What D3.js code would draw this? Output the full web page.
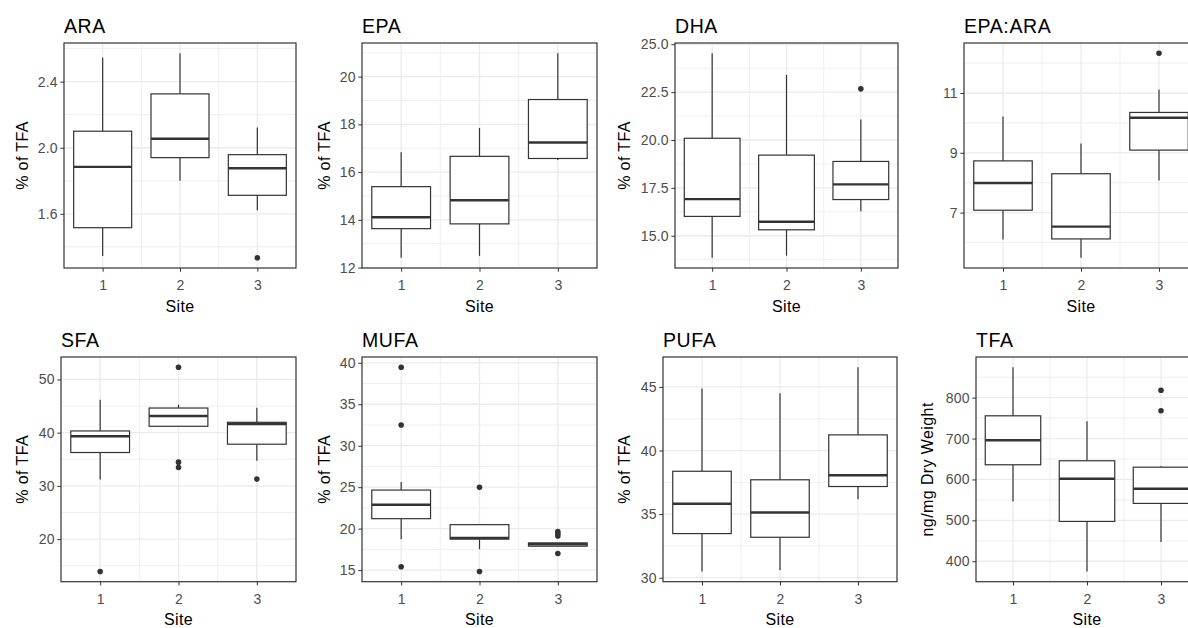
<!DOCTYPE html>
<html>
<head>
<meta charset="utf-8">
<script src="https://cdn.jsdelivr.net/npm/d3@7"></script>
<style>
  body { margin: 0; background: #fff; }
  svg { display: block; font-family: "Liberation Sans", Arial, sans-serif; }
</style>
</head>
<body>
<div id="chart"></div>
<script>
// Siti
const sites = ['1', '2', '3'];

// Statistiche dei box: low, q1, med, q3, high, outliers
const araStats = [
    { site: '1', low: 1.344, q1: 1.516, med: 1.884, q3: 2.10, high: 2.546, out: [] },
    { site: '2', low: 1.80, q1: 1.94, med: 2.054, q3: 2.326, high: 2.572, out: [] },
    { site: '3', low: 1.622, q1: 1.712, med: 1.876, q3: 1.958, high: 2.122, out: [1.334] }
];
const epaStats = [
    { site: '1', low: 12.41, q1: 13.63, med: 14.11, q3: 15.39, high: 16.83, out: [] },
    { site: '2', low: 12.49, q1: 13.83, med: 14.82, q3: 16.66, high: 17.85, out: [] },
    { site: '3', low: 16.51, q1: 16.57, med: 17.24, q3: 19.04, high: 20.98, out: [] }
];
const dhaStats = [
    { site: '1', low: 13.85, q1: 16.01, med: 16.91, q3: 20.09, high: 24.53, out: [] },
    { site: '2', low: 13.96, q1: 15.31, med: 15.73, q3: 19.21, high: 23.40, out: [] },
    { site: '3', low: 16.28, q1: 16.89, med: 17.68, q3: 18.88, high: 21.07, out: [22.67] }
];
const epaAraStats = [
    { site: '1', low: 6.10, q1: 7.08, med: 7.99, q3: 8.73, high: 10.21, out: [] },
    { site: '2', low: 5.49, q1: 6.12, med: 6.53, q3: 8.30, high: 9.31, out: [] },
    { site: '3', low: 8.07, q1: 9.09, med: 10.17, q3: 10.35, high: 11.12, out: [12.33] }
];
const sfaStats = [
    { site: '1', low: 31.22, q1: 36.27, med: 39.33, q3: 40.32, high: 46.2, out: [13.91] },
    { site: '2', low: 41.2, q1: 41.2, med: 43.13, q3: 44.63, high: 45.26, out: [52.3, 34.46, 33.46] },
    { site: '3', low: 34.7, q1: 37.83, med: 41.63, q3: 41.95, high: 44.7, out: [31.27] }
];
const mufaStats = [
    { site: '1', low: 18.72, q1: 21.2, med: 22.88, q3: 24.65, high: 25.61, out: [39.47, 32.5, 15.4] },
    { site: '2', low: 17.52, q1: 18.73, med: 18.88, q3: 20.48, high: 20.48, out: [24.98, 14.83] },
    { site: '3', low: 17.88, q1: 17.88, med: 18.12, q3: 18.28, high: 18.28, out: [19.64, 19.4, 19.12, 17.0] }
];
const pufaStats = [
    { site: '1', low: 30.49, q1: 33.47, med: 35.81, q3: 38.37, high: 44.87, out: [] },
    { site: '2', low: 30.59, q1: 33.18, med: 35.13, q3: 37.7, high: 44.5, out: [] },
    { site: '3', low: 36.17, q1: 37.17, med: 38.06, q3: 41.23, high: 46.55, out: [] }
];
const tfaStats = [
    { site: '1', low: 546.2, q1: 635.9, med: 696, q3: 755.6, high: 874.4, out: [] },
    { site: '2', low: 375, q1: 497.4, med: 601.7, q3: 645.7, high: 742.4, out: [] },
    { site: '3', low: 446.8, q1: 541.4, med: 577.3, q3: 630, high: 632.5, out: [818.2, 767.8] }
];

// Etichette dei tick
const araTicks = ['1.6', '2.0', '2.4'];
const epaTicks = ['12', '14', '16', '18', '20'];
const dhaTicks = ['15.0', '17.5', '20.0', '22.5', '25.0'];
const epaAraTicks = ['7', '9', '11'];
const sfaTicks = ['20', '30', '40', '50'];
const mufaTicks = ['15', '20', '25', '30', '35', '40'];
const pufaTicks = ['30', '35', '40', '45'];
const tfaTicks = ['400', '500', '600', '700', '800'];

const panelTitles = ['ARA', 'EPA', 'DHA', 'EPA:ARA', 'SFA', 'MUFA', 'PUFA', 'TFA'];
const yTitles = ['% of TFA', '% of TFA', '% of TFA', '', '% of TFA', '% of TFA', '% of TFA', 'ng/mg Dry Weight'];
const xTitle = 'Site';

const allStats = [araStats, epaStats, dhaStats, epaAraStats, sfaStats, mufaStats, pufaStats, tfaStats];
const allTicks = [araTicks, epaTicks, dhaTicks, epaAraTicks, sfaTicks, mufaTicks, pufaTicks, tfaTicks];

// Layout (pixel dei pannelli)
const W = 1188, H = 628;
const panelLeft = [64, 362, 675, 964, 61, 362, 663, 976];
const panelRight = [296, 597, 898, 1198, 296, 597, 897, 1198];
const rowTop = [43, 357];
const rowBottom = [268, 581.7];
const yTitleX = [28, 330, 630, 0, 28, 330, 630, 933];
const tickLen = 3.7;
const dark = '#333333';
const fontFamily = '"Liberation Sans", Arial, sans-serif';

const svg = d3.select('#chart').append('svg')
    .attr('width', W)
    .attr('height', H);

svg.append('rect').attr('width', W).attr('height', H).attr('fill', '#fff');

panelTitles.forEach((title, i) => {
    const row = i < 4 ? 0 : 1;
    const left = panelLeft[i], right = panelRight[i];
    const top = rowTop[row], bottom = rowBottom[row];
    const stats = allStats[i];
    const ticks = allTicks[i].map(Number);

    // Scala y con espansione del 5% come ggplot
    const vals = stats.flatMap(d => [d.low, d.high, ...d.out]);
    const [mn, mx] = d3.extent(vals);
    const pad = (mx - mn) * 0.05;
    const y = d3.scaleLinear().domain([mn - pad, mx + pad]).range([bottom, top]);

    const x = d3.scalePoint().domain(sites).range([left, right]).padding(0.5);
    const step = x.step();
    const boxW = step * 0.75;

    const g = svg.append('g');

    // Griglia minore
    const tstep = ticks[1] - ticks[0];
    const minorY = [ticks[0] - tstep / 2, ...ticks.map(t => t + tstep / 2)]
        .filter(v => v > y.domain()[0] && v < y.domain()[1]);
    g.selectAll('.minor-y').data(minorY).enter().append('line')
        .attr('x1', left).attr('x2', right)
        .attr('y1', d => y(d)).attr('y2', d => y(d))
        .attr('stroke', '#EBEBEB').attr('stroke-width', 0.8);
    const minorX = sites.slice(1).map(s => x(s) - step / 2);
    g.selectAll('.minor-x').data(minorX).enter().append('line')
        .attr('x1', d => d).attr('x2', d => d)
        .attr('y1', top).attr('y2', bottom)
        .attr('stroke', '#EBEBEB').attr('stroke-width', 0.8);

    // Griglia maggiore
    g.selectAll('.major-y').data(ticks).enter().append('line')
        .attr('x1', left).attr('x2', right)
        .attr('y1', d => y(d)).attr('y2', d => y(d))
        .attr('stroke', '#EBEBEB').attr('stroke-width', 1.3);
    g.selectAll('.major-x').data(sites).enter().append('line')
        .attr('x1', d => x(d)).attr('x2', d => x(d))
        .attr('y1', top).attr('y2', bottom)
        .attr('stroke', '#EBEBEB').attr('stroke-width', 1.3);

    // Box
    const box = g.selectAll('.box').data(stats).enter().append('g');
    box.append('line')
        .attr('x1', d => x(d.site)).attr('x2', d => x(d.site))
        .attr('y1', d => y(d.high)).attr('y2', d => y(d.q3))
        .attr('stroke', dark).attr('stroke-width', 1.2);
    box.append('line')
        .attr('x1', d => x(d.site)).attr('x2', d => x(d.site))
        .attr('y1', d => y(d.q1)).attr('y2', d => y(d.low))
        .attr('stroke', dark).attr('stroke-width', 1.2);
    box.append('rect')
        .attr('x', d => x(d.site) - boxW / 2)
        .attr('width', boxW)
        .attr('y', d => y(d.q3))
        .attr('height', d => y(d.q1) - y(d.q3))
        .attr('fill', '#fff')
        .attr('stroke', dark).attr('stroke-width', 1.2);
    box.append('line')
        .attr('x1', d => x(d.site) - boxW / 2).attr('x2', d => x(d.site) + boxW / 2)
        .attr('y1', d => y(d.med)).attr('y2', d => y(d.med))
        .attr('stroke', dark).attr('stroke-width', 2.4);
    box.selectAll('circle')
        .data(d => d.out.map(v => ({ site: d.site, v })))
        .enter().append('circle')
        .attr('cx', d => x(d.site))
        .attr('cy', d => y(d.v))
        .attr('r', 2.8)
        .attr('fill', dark);

    // Bordo del pannello
    g.append('rect')
        .attr('x', left).attr('y', top)
        .attr('width', right - left).attr('height', bottom - top)
        .attr('fill', 'none')
        .attr('stroke', dark).attr('stroke-width', 1.2);

    // Asse y
    const yAxis = g.append('g').attr('transform', `translate(${left},0)`)
        .call(d3.axisLeft(y).tickValues(ticks).tickSize(tickLen).tickPadding(2.5)
            .tickFormat((d, k) => allTicks[i][k]));
    yAxis.select('.domain').remove();
    yAxis.selectAll('line').attr('stroke', dark);
    yAxis.selectAll('text')
        .attr('fill', '#4D4D4D')
        .style('font-size', '14px')
        .style('letter-spacing', '0.2px')
        .style('font-family', fontFamily);

    // Asse x
    const xAxis = g.append('g').attr('transform', `translate(0,${bottom})`)
        .call(d3.axisBottom(x).tickSize(tickLen).tickPadding(3));
    xAxis.select('.domain').remove();
    xAxis.selectAll('line').attr('stroke', dark);
    xAxis.selectAll('text')
        .attr('fill', '#4D4D4D')
        .attr('y', 22).attr('dy', null)
        .style('font-size', '14px')
        .style('font-family', fontFamily);

    // Titoli
    g.append('text')
        .attr('x', left).attr('y', top - 10)
        .style('font-size', '19.5px')
        .style('letter-spacing', '0.6px')
        .attr('fill', '#000')
        .text(title);

    g.append('text')
        .attr('x', (left + right) / 2)
        .attr('y', bottom + 43.5)
        .attr('text-anchor', 'middle')
        .style('font-size', '16px')
        .style('letter-spacing', '0.4px')
        .attr('fill', '#000')
        .text(xTitle);

    if (yTitles[i]) {
        g.append('text')
            .attr('transform', `translate(${yTitleX[i]},${(top + bottom) / 2}) rotate(-90)`)
            .attr('text-anchor', 'middle')
            .style('font-size', '16px')
            .style('letter-spacing', '0.4px')
            .attr('fill', '#000')
            .text(yTitles[i]);
    }
});
</script>
</body>
</html>
